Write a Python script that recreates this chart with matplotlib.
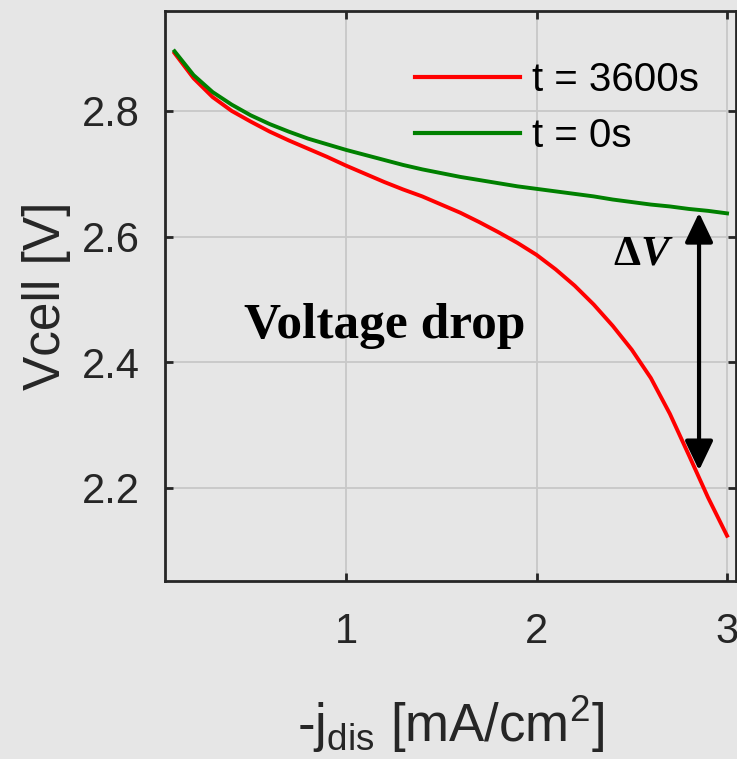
import matplotlib
matplotlib.use("Agg")
import matplotlib.pyplot as plt

# discharge current density (mA/cm^2)
j_dis = [0.1, 0.2, 0.3, 0.4, 0.5, 0.6, 0.7, 0.8, 0.9, 1.0,
         1.1, 1.2, 1.3, 1.4, 1.5, 1.6, 1.7, 1.8, 1.9, 2.0,
         2.1, 2.2, 2.3, 2.4, 2.5, 2.6, 2.7, 2.8, 2.9, 3.0]

# cell voltage after 3600 s (V)
v_3600 = [2.892, 2.852, 2.822, 2.800, 2.783, 2.767, 2.753, 2.740, 2.727, 2.713,
          2.700, 2.687, 2.675, 2.664, 2.651, 2.638, 2.623, 2.607, 2.590, 2.571,
          2.548, 2.522, 2.492, 2.458, 2.420, 2.375, 2.318, 2.252, 2.185, 2.124]

# cell voltage at t = 0 (V)
v_0 = [2.895, 2.857, 2.830, 2.810, 2.793, 2.779, 2.767, 2.756, 2.747, 2.738,
       2.730, 2.722, 2.714, 2.707, 2.701, 2.695, 2.690, 2.685, 2.680, 2.676,
       2.672, 2.668, 2.664, 2.659, 2.655, 2.651, 2.648, 2.644, 2.641, 2.637]

x_ticks = [1, 2, 3]
y_ticks = [2.2, 2.4, 2.6, 2.8]

DV_X = 2.853    # where the delta-V arrow sits
DV_TOP = 2.638
DV_BOT = 2.228

BG = "#e6e6e6"
DARK = "#262626"

plt.rcParams["font.family"] = ["Liberation Sans", "DejaVu Sans"]
plt.rcParams["mathtext.fontset"] = "custom"
plt.rcParams["mathtext.rm"] = "Liberation Sans"

fig = plt.figure(figsize=(7.37, 7.59), dpi=100, facecolor=BG)
ax = fig.add_axes([165/737, 1 - 581/759, (736 - 165)/737, (581 - 11)/759])
ax.set_facecolor(BG)

ax.plot(j_dis, v_3600, color="#ff0000", lw=2.8, label="t = 3600s", zorder=3)
ax.plot(j_dis, v_0, color="#008000", lw=2.8, label="t = 0s", zorder=3)

ax.set_xlim(0.05, 3.047)
ax.set_ylim(2.052, 2.959)
ax.set_xticks(x_ticks)
ax.set_yticks(y_ticks)
ax.set_xticklabels([str(t) for t in x_ticks])
ax.set_yticklabels([f"{t:.1f}" for t in y_ticks])

ax.grid(True, color="#c8c8c8", lw=1.3)
ax.set_axisbelow(True)
for s in ax.spines.values():
    s.set_color(DARK)
    s.set_linewidth(2.0)
ax.tick_params(direction="in", length=6, width=2, color=DARK, top=True, right=True,
               labelsize=30, labelcolor=DARK)
ax.tick_params(axis="x", pad=22)
ax.tick_params(axis="y", pad=18)

ax.set_xlabel(r"-j$_{\rm dis}$ [mA/cm$^{2}$]", fontsize=38, color=DARK, labelpad=30)
ax.set_ylabel("Vcell [V]", fontsize=37, color=DARK, labelpad=8)

leg = ax.legend(loc="upper left", bbox_to_anchor=((415 - 165)/571, 1 - 50/570),
                frameon=False, fontsize=29, handlelength=2.6, handletextpad=0.3,
                labelspacing=0.45, borderpad=0, borderaxespad=0)
for line in leg.get_lines():
    line.set_linewidth(3)

ax.annotate("", xy=(DV_X, DV_BOT), xytext=(DV_X, DV_TOP),
            arrowprops=dict(arrowstyle="<|-|>,head_length=0.9,head_width=0.43",
                            mutation_scale=20, color="black", lw=3,
                            shrinkA=0, shrinkB=0), zorder=4)
ax.text(2.545, 2.571, "Δ", fontsize=31, fontweight="bold",
        family="Liberation Serif", ha="right", va="center")
ax.text(2.545, 2.571, "V", fontsize=31, fontweight="bold", fontstyle="italic",
        family="Liberation Serif", ha="left", va="center")
ax.text(1.205, 2.458, "Voltage drop", fontsize=37, fontweight="bold",
        family="Liberation Serif", ha="center", va="center")

fig.savefig("out.png", dpi=100, facecolor=BG)
